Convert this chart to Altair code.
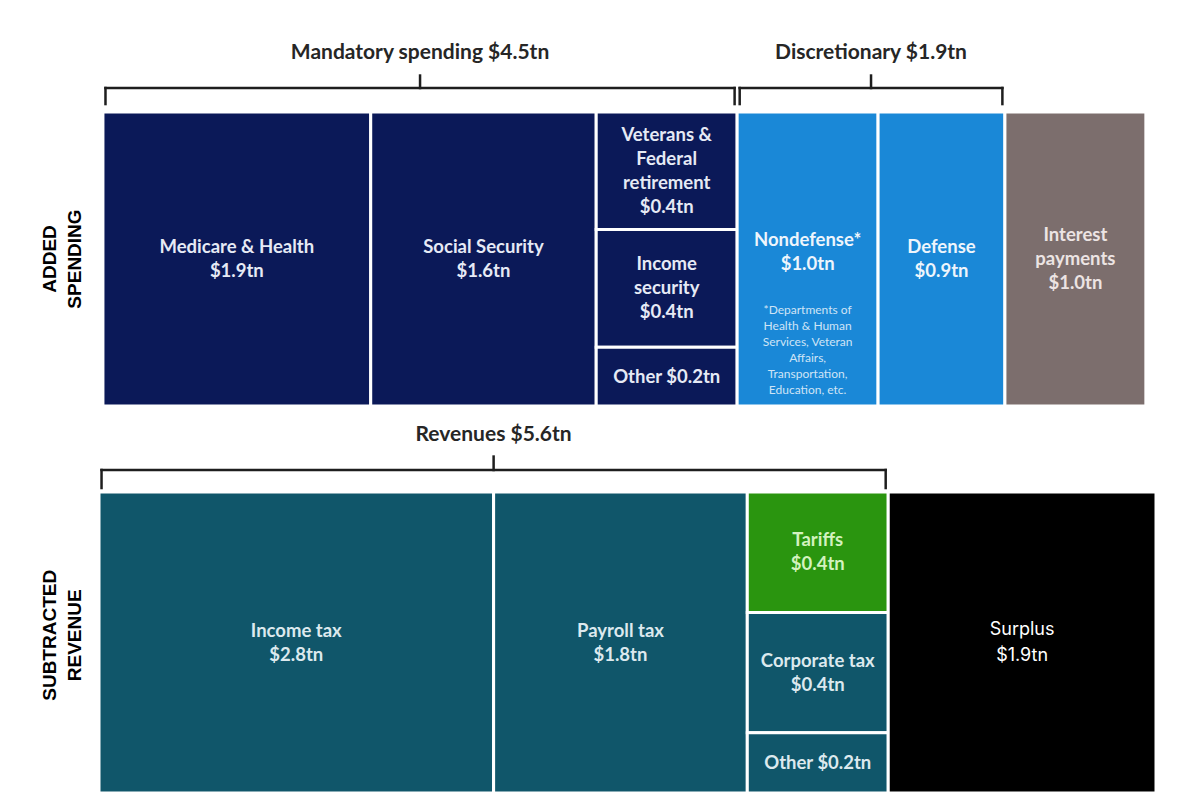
import altair as alt
import pandas as pd

# ---- data ($ trillions) ----
SPEND_ITEMS = ["Medicare & Health", "Social Security", "Veterans &\nFederal\nretirement",
               "Income\nsecurity", "Other", "Nondefense*", "Defense", "Interest\npayments"]
SPEND_VALUES = [1.9, 1.6, 0.4, 0.4, 0.2, 1.0, 0.9, 1.0]
SPEND_SLOTS = [0, 1, 2, 2, 2, 3, 4, 5]
SPEND_GROUPS = ["Mandatory spending"] * 5 + ["Discretionary"] * 2 + ["Interest"]

REVENUE_ITEMS = ["Income tax", "Payroll tax", "Tariffs", "Corporate tax", "Other", "Surplus"]
REVENUE_VALUES = [2.8, 1.8, 0.4, 0.4, 0.2, 1.9]
REVENUE_SLOTS = [0, 1, 2, 2, 2, 3]
REVENUE_GROUPS = ["Revenues"] * 5 + ["Surplus"]

ROW_NAMES = ["ADDED\nSPENDING", "SUBTRACTED\nREVENUE"]
BRACKETED = ["Mandatory spending", "Discretionary", "Revenues"]
NOTE = "*Departments of\nHealth & Human\nServices, Veteran\nAffairs,\nTransportation,\nEducation, etc."

# ---- styling ----
FILL = {"Mandatory spending": "#0b1958", "Discretionary": "#1a88d7", "Interest": "#7c6e6d",
        "Revenues": "#10566a", "Surplus": "#000000", "Tariffs": "#2a950f"}
INK = {"Mandatory spending": "#e6eaf5", "Discretionary": "#eef5fc", "Interest": "#ece4e3",
       "Revenues": "#dce9ee", "Surplus": "#ffffff", "Tariffs": "#d3f2bf"}
TILE_LINE = 24      # px between label lines
PLAIN_LINE = 26
NOTE_LINE = 16
ROW_LINE = 25

# ---- layout (x in $tn, y in row-height units) ----
X_RANGE = (99, 1156)
X_DOMAIN = (0, 7.5)
Y_RANGE = (112, 406)
X_SCALE = alt.Scale(domain=list(X_DOMAIN), range=list(X_RANGE), nice=False, zero=False)
Y_SCALE = alt.Scale(domain=[0, 1], range=list(Y_RANGE), nice=False, zero=False)
PX_PER_X = (X_RANGE[1] - X_RANGE[0]) / (X_DOMAIN[1] - X_DOMAIN[0])
PX_PER_Y = Y_RANGE[1] - Y_RANGE[0]

ROW_LAYOUT = [(0.028, 0.0, 1.0), (0.0, 1.2925, 1.024)]  # x offset, top, height
BRACKET_Y = [(-0.0816, -0.027, -0.124, -0.2), (1.2177, 1.279, 1.172, 1.098)]  # bar, feet, tick, heading
LABEL_SHIFT = {"Nondefense*": -0.024}
ROW_LABEL_X = -0.259
ROW_LABEL_Y = [0.5, 1.78]
BRACKET_INSET = 0.018


def first_line(center, text, line_px, px_per_unit):
    """Anchor of the first line so that a multi-line block is centred on `center`."""
    n = text.count("\n") + 1
    return center - (n - 1) * line_px / 2 / px_per_unit


def tiles(items, values, slots, groups, row):
    x_off, top, height = ROW_LAYOUT[row]
    slot_ids = sorted(set(slots))
    totals = {s: sum(v for v, k in zip(values, slots) if k == s) for s in slot_ids}
    starts, acc = {}, x_off
    for s in slot_ids:
        starts[s] = acc
        acc += totals[s]
    used = {s: 0.0 for s in slot_ids}
    rows = []
    for name, v, s, g in zip(items, values, slots, groups):
        y0 = top + height * used[s] / totals[s]
        used[s] += v
        y1 = top + height * used[s] / totals[s]
        key = name if name in FILL else g
        sep = " " if name == "Other" else "\n"
        label = f"{name}{sep}${v:.1f}tn"
        plain = g == "Surplus"
        centre = (y0 + y1) / 2 + LABEL_SHIFT.get(name, 0.0)
        rows.append({
            "row": row, "name": name, "group": g, "value": v,
            "x0": starts[s], "x1": starts[s] + totals[s], "y0": y0, "y1": y1,
            "xc": starts[s] + totals[s] / 2,
            "yc": first_line(centre, label, PLAIN_LINE if plain else TILE_LINE, PX_PER_Y),
            "label": label, "fill": FILL[key], "ink": INK[key], "plain": plain,
        })
    return rows


tile_df = pd.DataFrame(
    tiles(SPEND_ITEMS, SPEND_VALUES, SPEND_SLOTS, SPEND_GROUPS, 0)
    + tiles(REVENUE_ITEMS, REVENUE_VALUES, REVENUE_SLOTS, REVENUE_GROUPS, 1)
)

# brackets over the grouped tiles
seg_rows, head_rows = [], []
for g in BRACKETED:
    sub = tile_df[tile_df["group"] == g]
    row = int(sub["row"].iloc[0])
    bar, feet, tick, head = BRACKET_Y[row]
    a = sub["x0"].min() + BRACKET_INSET
    b = sub["x1"].max() - BRACKET_INSET
    mid = (a + b) / 2
    seg_rows += [
        {"xa": a, "xb": b, "ya": bar, "yb": bar},
        {"xa": a, "xb": a, "ya": bar, "yb": feet},
        {"xa": b, "xb": b, "ya": bar, "yb": feet},
        {"xa": mid, "xb": mid, "ya": bar, "yb": tick},
    ]
    head_rows.append({"x": mid, "y": head, "text": f"{g} ${sub['value'].sum():.1f}tn"})
seg_df = pd.DataFrame(seg_rows)
head_df = pd.DataFrame(head_rows)

nd = tile_df[tile_df["name"] == "Nondefense*"].iloc[0]
note_centre = nd["y0"] + 0.808 * (nd["y1"] - nd["y0"])
note_df = pd.DataFrame([{"x": nd["xc"], "y": first_line(note_centre, NOTE, NOTE_LINE, PX_PER_Y),
                         "text": NOTE}])

# rotated row titles: successive lines step to the right
row_df = pd.DataFrame({
    "x": [first_line(ROW_LABEL_X, t, ROW_LINE, PX_PER_X) for t in ROW_NAMES],
    "y": ROW_LABEL_Y,
    "text": ROW_NAMES,
})


def X(f):
    return alt.X(f, scale=X_SCALE, axis=None)


def Y(f):
    return alt.Y(f, scale=Y_SCALE, axis=None)


rects = alt.Chart(tile_df).mark_rect(stroke="white", strokeWidth=3).encode(
    x=X("x0:Q"), x2="x1:Q", y=Y("y0:Q"), y2="y1:Q",
    color=alt.Color("fill:N", scale=None),
)

labels = alt.Chart(tile_df).transform_filter("!datum.plain").mark_text(
    font="Lato", fontWeight="bold", fontSize=18.5, lineBreak="\n", lineHeight=TILE_LINE,
    align="center", baseline="middle",
).encode(x=X("xc:Q"), y=Y("yc:Q"), text="label:N", color=alt.Color("ink:N", scale=None))

plain_labels = alt.Chart(tile_df).transform_filter("datum.plain").mark_text(
    font="Inter", fontWeight="normal", fontSize=18, lineBreak="\n", lineHeight=PLAIN_LINE,
    align="center", baseline="middle",
).encode(x=X("xc:Q"), y=Y("yc:Q"), text="label:N", color=alt.Color("ink:N", scale=None))

note = alt.Chart(note_df).mark_text(
    font="Lato", fontSize=12, lineBreak="\n", lineHeight=NOTE_LINE, align="center",
    baseline="middle", color="#cfe4f6",
).encode(x=X("x:Q"), y=Y("y:Q"), text="text:N")

brackets = alt.Chart(seg_df).mark_rule(color="#1e1e1e", strokeWidth=2.5, strokeCap="square").encode(
    x=X("xa:Q"), x2="xb:Q", y=Y("ya:Q"), y2="yb:Q",
)

headings = alt.Chart(head_df).mark_text(
    font="Lato", fontWeight="bold", fontSize=21, color="#262626", align="center", baseline="middle",
).encode(x=X("x:Q"), y=Y("y:Q"), text="text:N")

row_labels = alt.Chart(row_df).mark_text(
    font="Liberation Sans", fontWeight="bold", fontSize=19, color="#000000", angle=270,
    lineBreak="\n", lineHeight=ROW_LINE, align="center", baseline="middle",
).encode(x=X("x:Q"), y=Y("y:Q"), text="text:N")

chart = alt.layer(rects, labels, plain_labels, note, brackets, headings, row_labels).properties(
    width=1200, height=803, autosize="none", padding=0, background="white",
).configure_view(stroke=None)

chart.save("out.html", embed_options={"renderer": "svg", "actions": False})
